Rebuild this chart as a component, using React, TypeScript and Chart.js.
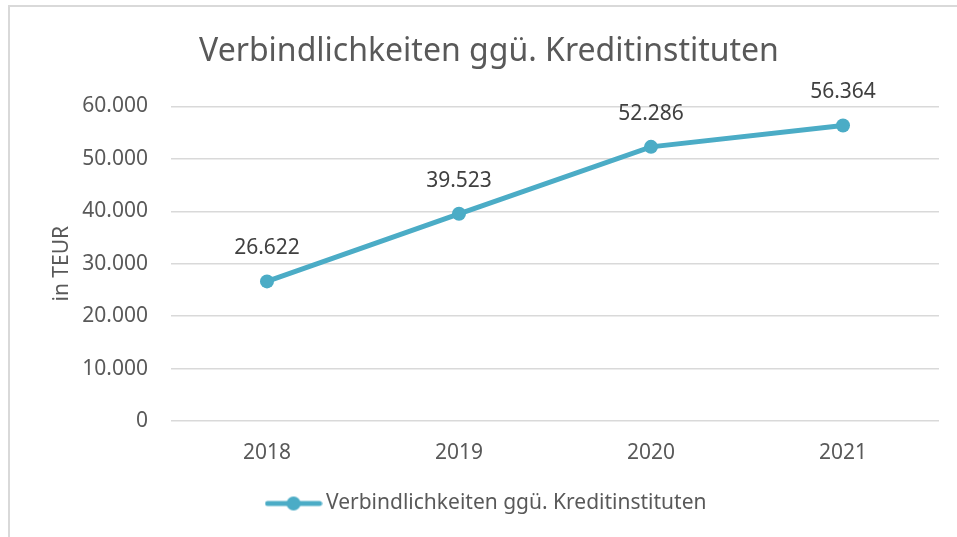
import React, { useEffect, useRef } from "react";
import { Chart, registerables } from "chart.js";

Chart.register(...registerables);

const categories = ["2018", "2019", "2020", "2021"];
const values = [26622, 39523, 52286, 56364];
const seriesName = "Verbindlichkeiten ggü. Kreditinstituten";
const chartTitle = "Verbindlichkeiten ggü. Kreditinstituten";
const yAxisTitle = "in TEUR";

const FONT = "'Noto Sans', sans-serif";
const TEXT = "#595959";
const LINE = "#4bacc6";
const GRID = "#d9d9d9";

const fmt = (v: number) => v.toLocaleString("de-DE");

function legendSymbol(): HTMLCanvasElement {
  const c = document.createElement("canvas");
  c.width = 58;
  c.height = 18;
  const ctx = c.getContext("2d")!;
  ctx.strokeStyle = LINE;
  ctx.lineWidth = 5;
  ctx.lineCap = "round";
  ctx.beginPath();
  ctx.moveTo(3, 9);
  ctx.lineTo(55, 9);
  ctx.stroke();
  ctx.fillStyle = LINE;
  ctx.beginPath();
  ctx.arc(29, 9, 7, 0, Math.PI * 2);
  ctx.fill();
  return c;
}

const dataLabels = {
  id: "dataLabels",
  afterDatasetsDraw(chart: any) {
    const ctx = chart.ctx;
    const meta = chart.getDatasetMeta(0);
    ctx.save();
    ctx.font = `21px ${FONT}`;
    ctx.fillStyle = "#404040";
    ctx.textAlign = "center";
    ctx.textBaseline = "middle";
    meta.data.forEach((pt: any, i: number) => {
      ctx.fillText(fmt(values[i]), pt.x, pt.y - 33);
    });
    ctx.restore();
  },
};

export default function App() {
  const ref = useRef<HTMLCanvasElement>(null);
  useEffect(() => {
    const sym = legendSymbol();
    const chart = new Chart(ref.current!, {
      type: "line",
      data: {
        labels: categories,
        datasets: [
          {
            label: seriesName,
            data: values,
            borderColor: LINE,
            backgroundColor: LINE,
            borderWidth: 5,
            pointRadius: 7,
            pointBackgroundColor: LINE,
            pointBorderWidth: 0,
            tension: 0,
          },
        ],
      },
      options: {
        animation: false,
        responsive: false,
        layout: { padding: { left: 39, right: 18, top: 20, bottom: 13 } },
        plugins: {
          title: {
            display: true,
            text: chartTitle,
            color: TEXT,
            font: { family: FONT, size: 32, weight: "normal" },
            padding: { top: 13, bottom: 35 },
          },
          legend: {
            display: true,
            position: "bottom",
            labels: {
              color: TEXT,
              font: { family: FONT, size: 21 },
              usePointStyle: true,
              pointStyleWidth: 44,
              boxHeight: 18,
              padding: 10,
              generateLabels: () => [
                {
                  text: seriesName,
                  pointStyle: sym,
                  fillStyle: LINE,
                  strokeStyle: LINE,
                  lineWidth: 0,
                  hidden: false,
                  datasetIndex: 0,
                  fontColor: TEXT,
                } as any,
              ],
            },
          },
          tooltip: { enabled: false },
        },
        scales: {
          x: {
            offset: true,
            grid: { display: false, drawTicks: false },
            border: { display: false },
            ticks: { color: TEXT, font: { family: FONT, size: 21 }, padding: 19 },
            afterFit: (s: any) => {
              s.height = 62;
            },
          },
          y: {
            min: 0,
            max: 60000,
            grid: { color: GRID, lineWidth: 1.5, drawTicks: false },
            border: { display: false },
            ticks: {
              stepSize: 10000,
              color: TEXT,
              font: { family: FONT, size: 21 },
              padding: 23,
              callback: (v: any) => fmt(Number(v)),
            },
            title: {
              display: true,
              text: yAxisTitle,
              color: TEXT,
              font: { family: FONT, size: 21 },
              padding: { top: 10, bottom: 0 },
            },
            afterFit: (s: any) => {
              s.width = 132;
            },
          },
        },
      },
      plugins: [dataLabels],
    });
    return () => chart.destroy();
  }, []);

  return (
    <div style={{ position: "fixed", left: 0, top: 0, width: 957, height: 537, background: "#fff", overflow: "hidden" }}>
      <div
        style={{
          position: "absolute",
          left: 8,
          top: 5,
          width: 980,
          height: 560,
          border: "2px solid #d9d9d9",
          boxSizing: "border-box",
        }}
      />
      <canvas ref={ref} width={957} height={537} style={{ position: "absolute", left: 0, top: 0 }} />
    </div>
  );
}
